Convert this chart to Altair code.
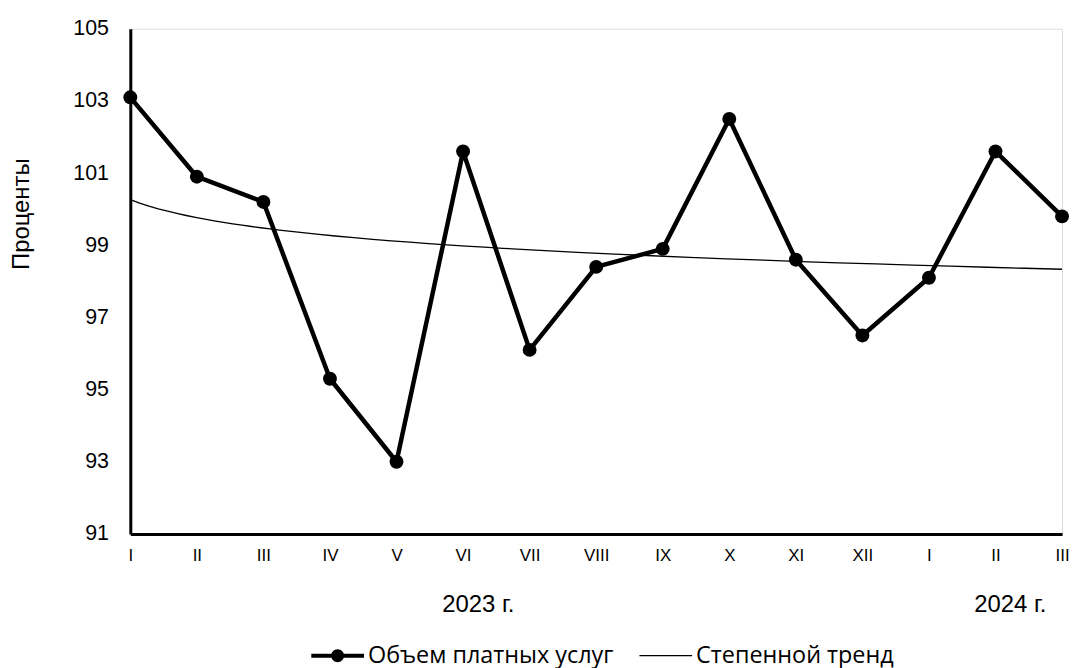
import altair as alt
import pandas as pd

# ---- data ----
months = ["I", "II", "III", "IV", "V", "VI", "VII", "VIII", "IX", "X", "XI", "XII", "I", "II", "III"]
values = [103.1, 100.9, 100.2, 95.3, 93.0, 101.6, 96.1, 98.4, 98.9, 102.5, 98.6, 96.5, 98.1, 101.6, 99.8]
series_names = ["Объем платных услуг", "Степенной тренд"]
y_ticks = [91, 93, 95, 97, 99, 101, 103, 105]
years = ["2023 г.", "2024 г."]
y_title = "Проценты"

idx = list(range(1, len(months) + 1))
df = pd.DataFrame({"idx": idx, "month": months, "value": values, "series": series_names[0]})
legend_df = pd.DataFrame({"series": series_names})

label_expr = "[" + ",".join("'%s'" % m for m in months) + "][datum.value - 1]"

# legend symbol shapes (unit-square SVG paths, filled, clockwise)
path_main = (
    "M-1,-0.075H1V0.075H-1Z"
    "M-0.245,0A0.245,0.245 0 1 1 0.245,0A0.245,0.245 0 1 1 -0.245,0Z"
)
path_trend = "M-1,-0.024H1V0.024H-1Z"

legend = alt.Legend(
    title=None,
    orient="none",
    legendX=182,
    legendY=604,
    direction="horizontal",
    symbolSize=2809,
    symbolFillColor="black",
    symbolStrokeWidth=0,
    labelFont="Open Sans",
    labelFontSize=23.5,
    labelColor="black",
    labelOffset=4,
    labelLimit=500,
    columnPadding=26,
)

x_enc = alt.X(
    "idx:Q",
    scale=alt.Scale(domain=[1, len(months)], nice=False, zero=False),
    axis=alt.Axis(
        values=idx,
        labelExpr=label_expr,
        title=None,
        ticks=False,
        grid=False,
        domainColor="black",
        domainWidth=3,
        labelFont="Liberation Sans",
        labelFontSize=17,
        labelColor="black",
        labelPadding=14,
        labelFlush=False,
        labelOverlap=False,
    ),
)
y_enc = alt.Y(
    "value:Q",
    scale=alt.Scale(domain=[y_ticks[0], y_ticks[-1]], nice=False, zero=False),
    axis=alt.Axis(
        values=y_ticks,
        title=y_title,
        titleFont="Liberation Sans",
        titleFontSize=24,
        titleFontWeight="normal",
        titleColor="black",
        titleAngle=270,
        titleAlign="center",
        titleBaseline="middle",
        titleX=-109,
        titleY=186,
        ticks=False,
        grid=False,
        domainColor="black",
        domainWidth=3,
        labelFont="Liberation Sans",
        labelFontSize=21.5,
        labelColor="black",
        labelPadding=22,
        labelFlush=False,
        labelOverlap=False,
    ),
)

base = alt.Chart(df)

line = base.mark_line(strokeWidth=4.5, strokeJoin="round", color="black").encode(x=x_enc, y=y_enc)
pts = base.mark_circle(size=195, opacity=1, color="black").encode(x="idx:Q", y="value:Q")
trend = (
    base.transform_regression("idx", "value", method="pow")
    .mark_line(strokeWidth=1.3, color="black")
    .encode(x="idx:Q", y="value:Q")
)

# legend source: clipped-away helper marks, one per series
legend_layer = alt.Chart(legend_df).mark_point(
    filled=True, fill="black", strokeWidth=0, opacity=1, clip=True
).encode(
    x=alt.value(-500),
    y=alt.value(-500),
    shape=alt.Shape("series:N", scale=alt.Scale(domain=series_names, range=[path_main, path_trend]), legend=legend),
)

year_style = dict(font="Liberation Sans", fontSize=24, color="black", baseline="alphabetic", align="center")
year1 = alt.Chart(pd.DataFrame({"label": [years[0]]})).mark_text(**year_style).encode(
    text="label:N", x=alt.value(350), y=alt.value(587)
)
year2 = alt.Chart(pd.DataFrame({"label": [years[1]]})).mark_text(**year_style).encode(
    text="label:N", x=alt.value(885), y=alt.value(587)
)

chart = (
    alt.layer(trend, line, pts, legend_layer, year1, year2)
    .properties(
        width=937,
        height=508,
        autosize=alt.AutoSizeParams(type="none"),
        padding={"left": 123, "top": 19, "right": 8, "bottom": 137},
    )
    .configure_view(stroke=None)
    .configure(background="white")
)

chart.save("out.html", embed_options={"renderer": "svg", "actions": False})
